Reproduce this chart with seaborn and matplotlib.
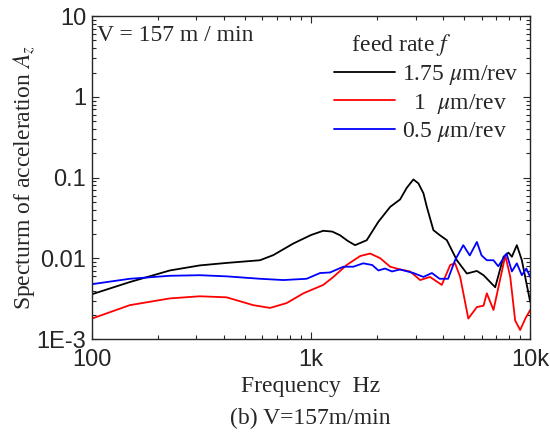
import numpy as np
import pandas as pd
import matplotlib
matplotlib.use("Agg")
import matplotlib.pyplot as plt
import matplotlib.ticker as mticker
import seaborn as sns

# 데이터
freq_175 = [100, 149, 227, 311, 412, 585, 673, 830, 1000, 1137, 1250, 1355, 1470, 1588,
            1795, 2028, 2297, 2548, 2735, 2931, 3090, 3258, 3375, 3617, 3870, 4167, 4628,
            5140, 5710, 6124, 6924, 7557, 7962, 8250, 8690, 9160, 10000]
amp_175 = [0.0036, 0.0051, 0.0071, 0.0082, 0.0088, 0.0095, 0.011, 0.0153, 0.0195, 0.022,
           0.0215, 0.0194, 0.0165, 0.0146, 0.0168, 0.0284, 0.0435, 0.0537, 0.075, 0.095,
           0.085, 0.064, 0.0435, 0.0224, 0.0194, 0.0168, 0.0095, 0.0065, 0.0070, 0.0062,
           0.0044, 0.0105, 0.0118, 0.0105, 0.0146, 0.0095, 0.0029]

freq_1 = [100, 149, 227, 311, 412, 545, 650, 774, 923, 1137, 1265, 1455, 1675, 1860, 2065,
          2297, 2548, 2831, 3146, 3491, 3950, 4316, 4540, 4792, 5220, 5710, 6124, 6340,
          6800, 7700, 8110, 8540, 9000, 9500, 10000]
amp_1 = [0.0018, 0.00264, 0.0032, 0.0034, 0.0033, 0.00264, 0.00244, 0.0028, 0.0037, 0.0047,
         0.0059, 0.0083, 0.0107, 0.0115, 0.0101, 0.0079, 0.0073, 0.0069, 0.0054, 0.0059,
         0.0047, 0.0083, 0.0087, 0.0059, 0.0018, 0.0025, 0.0026, 0.0037, 0.0023, 0.0109,
         0.0059, 0.0017, 0.0013, 0.0018, 0.0023]

freq_05 = [100, 149, 227, 311, 412, 585, 748, 955, 1100, 1220, 1405, 1560, 1730, 1900, 2030,
           2177, 2340, 2548, 2931, 3258, 3560, 3860, 4220, 4540, 4950, 5300, 5710, 6000,
           6340, 6800, 7150, 7800, 8250, 8690, 9160, 9600, 10000]
amp_05 = [0.0048, 0.0056, 0.0061, 0.0062, 0.0060, 0.0056, 0.0054, 0.0056, 0.0066, 0.0067,
          0.0079, 0.0079, 0.0087, 0.0083, 0.0071, 0.0075, 0.0069, 0.0073, 0.0066, 0.0059,
          0.0066, 0.0056, 0.0056, 0.0095, 0.0146, 0.0109, 0.016, 0.0109, 0.0095, 0.0095,
          0.008, 0.0115, 0.0069, 0.0087, 0.0062, 0.0075, 0.0059]

labels = ["1.75 $\\mu$m/rev", "  1  $\\mu$m/rev", "0.5 $\\mu$m/rev"]
colors = ["black", "red", "blue"]

df = pd.concat([
    pd.DataFrame({"freq": freq_175, "amp": amp_175, "feed": labels[0]}),
    pd.DataFrame({"freq": freq_1, "amp": amp_1, "feed": labels[1]}),
    pd.DataFrame({"freq": freq_05, "amp": amp_05, "feed": labels[2]}),
])

sns.set_style("ticks")
plt.rcParams["font.family"] = ["Liberation Serif", "DejaVu Serif"]
plt.rcParams["mathtext.fontset"] = "stix"

fig = plt.figure(figsize=(5.5, 4.36), dpi=100)
ax = fig.add_axes([0.167, 0.222, 0.797, 0.741])

sns.lineplot(data=df, x="freq", y="amp", hue="feed", hue_order=labels,
             palette=colors, linewidth=1.3, ax=ax, sort=False, estimator=None)

ax.set_xscale("log")
ax.set_yscale("log")
ax.set_xlim(100, 10000)
ax.set_ylim(1e-3, 10)

ax.xaxis.set_major_locator(mticker.FixedLocator([100, 1000, 10000]))
ax.xaxis.set_major_formatter(mticker.FixedFormatter(["100", "1k", "10k"]))
ax.yaxis.set_major_locator(mticker.FixedLocator([1e-3, 1e-2, 1e-1, 1, 10]))
ax.yaxis.set_major_formatter(mticker.FixedFormatter(["1E-3", "0.01", "0.1", "1", "10"]))
ax.xaxis.set_minor_locator(mticker.LogLocator(subs=np.arange(2, 10)))
ax.yaxis.set_minor_locator(mticker.LogLocator(subs=np.arange(2, 10)))
ax.xaxis.set_minor_formatter(mticker.NullFormatter())
ax.yaxis.set_minor_formatter(mticker.NullFormatter())

ax.tick_params(which="both", direction="in", top=True, right=True, width=0.8)
ax.tick_params(which="major", length=5, labelsize=17)
ax.tick_params(axis="x", which="major", pad=7)
ax.tick_params(axis="y", which="major", pad=4)
ax.tick_params(which="minor", length=3)
for lab in ax.get_xticklabels() + ax.get_yticklabels():
    lab.set_family("Liberation Sans")
for sp in ax.spines.values():
    sp.set_linewidth(1.0)

ax.set_xlabel("Frequency  Hz", fontsize=17, labelpad=4)
ax.set_ylabel("Specturm of acceleration $A_z$", fontsize=17, labelpad=0)

ax.text(0.012, 0.972, "V = 157 m / min", transform=ax.transAxes, fontsize=17,
        ha="left", va="top")

leg = ax.legend(title="   feed rate $f$", loc="upper right", bbox_to_anchor=(0.975, 0.95),
                frameon=False, fontsize=17, title_fontsize=17, handlelength=2.6,
                handletextpad=0.3, labelspacing=0.2, borderaxespad=0.0,
                borderpad=0.0)
leg._legend_box.align = "left"

fig.text(0.565, 0.015, "(b) V=157m/min", ha="center", va="bottom", fontsize=17)

plt.savefig("out.png", dpi=100)
